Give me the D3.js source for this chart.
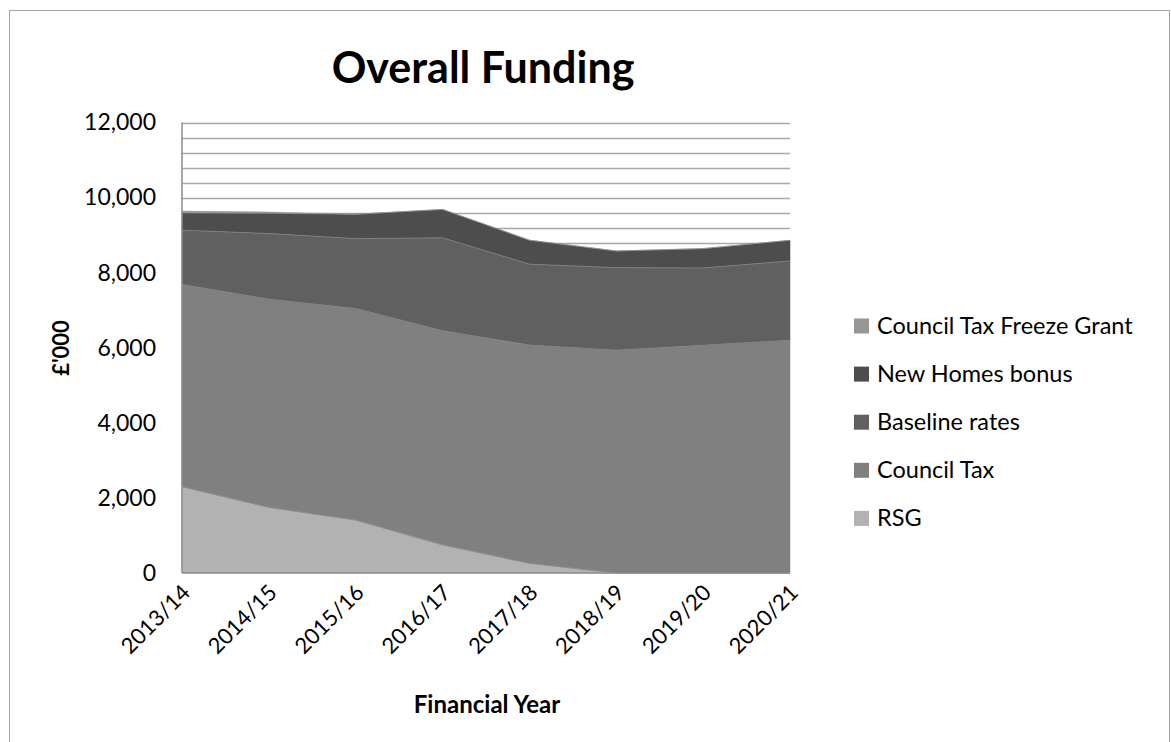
<!DOCTYPE html>
<html><head><meta charset="utf-8">
<script src="https://cdn.jsdelivr.net/npm/d3@7"></script>
<style>body{margin:0;background:#fff}svg{display:block}text{font-family:Lato,"Open Sans",sans-serif}</style>
</head><body><svg id="c" width="1171" height="742"></svg>
<script>
const years = ["2013/14","2014/15","2015/16","2016/17","2017/18","2018/19","2019/20","2020/21"];
const seriesNames = ["RSG","Council Tax","Baseline rates","New Homes bonus","Council Tax Freeze Grant"];
const rsg = [2300,1750,1410,750,260,0,0,0];
const councilTax = [5385,5543,5633,5703,5810,5934,6067,6200];
const baselineRates = [1445,1749,1863,2475,2155,2200,2058,2111];
const newHomesBonus = [460,540,650,755,639,443,515,550];
const freezeGrant = [50,35,0,0,0,0,0,0];
const colors = ["#b2b2b2","#808080","#606060","#4d4d4d","#969696"];
const yTicks = [0,2000,4000,6000,8000,10000,12000];

const rows = years.map((y,i)=>({year:y,"RSG":rsg[i],"Council Tax":councilTax[i],"Baseline rates":baselineRates[i],"New Homes bonus":newHomesBonus[i],"Council Tax Freeze Grant":freezeGrant[i]}));
const svg = d3.select("#c");
svg.append("rect").attr("x",9.5).attr("y",10.5).attr("width",1160).attr("height",760).attr("fill","none").attr("stroke","#a6a6a6").attr("stroke-width",1);

const L=182,R=790,T=122.5,B=573;
const x = d3.scalePoint().domain(years).range([L,R]);
const y = d3.scaleLinear().domain([0,12000]).range([B,T]);

const grid = d3.range(400,12001,400);
svg.append("g").selectAll("line").data(grid).join("line")
  .attr("x1",L).attr("x2",R).attr("y1",d=>Math.round(y(d))+0.5).attr("y2",d=>Math.round(y(d))+0.5)
  .attr("stroke","#a8a8a8").attr("stroke-width",1.5);

const stack = d3.stack().keys(seriesNames)(rows);
const area = d3.area().x(d=>x(d.data.year)).y0(d=>y(d[0])).y1(d=>y(d[1]));
svg.append("g").selectAll("path").data(stack).join("path")
  .attr("d",area).attr("fill",(d,i)=>colors[i]).attr("stroke",(d,i)=>colors[i]).attr("stroke-width",0.5);
const line = d3.line().x(d=>x(d.data.year)).y(d=>y(d[1]));
svg.append("g").selectAll("path").data(stack.slice(0,3)).join("path")
  .attr("d",line).attr("fill","none").attr("stroke","#8a8a8a").attr("stroke-width",0.8);

svg.append("line").attr("x1",L).attr("x2",L).attr("y1",T).attr("y2",B).attr("stroke","#8c8c8c").attr("stroke-width",1.5);
svg.append("line").attr("x1",L).attr("x2",R).attr("y1",B).attr("y2",B).attr("stroke","#8c8c8c").attr("stroke-width",1.5);

const yAxis = d3.axisLeft(y).tickValues(yTicks).tickSize(0).tickPadding(0).tickFormat(d3.format(","));
const gy = svg.append("g").attr("transform",`translate(${L-26},0)`).call(yAxis);
gy.select(".domain").remove();
gy.selectAll("text").attr("font-size",23).attr("fill","#000").attr("font-family","Lato,'Open Sans',sans-serif");

const xAxis = d3.axisBottom(x).tickSize(0).tickPadding(0);
const gx = svg.append("g").attr("transform",`translate(0,${B})`).call(xAxis);
gx.select(".domain").remove();
gx.selectAll("text").attr("font-size",22).attr("fill","#000").attr("font-family","Lato,'Open Sans',sans-serif")
  .attr("text-anchor","end").attr("dy",0).attr("transform","translate(9,21) rotate(-45)");

svg.append("text").attr("x",483).attr("y",83).attr("text-anchor","middle").attr("font-size",43).attr("font-weight","bold").text("Overall Funding");
svg.append("text").attr("x",487).attr("y",713).attr("text-anchor","middle").attr("font-size",24).attr("font-weight","bold").text("Financial Year");
svg.append("text").attr("transform","translate(69,348) rotate(-90)").attr("text-anchor","middle").attr("font-size",22).attr("font-weight","bold").text("£'000");

const leg = seriesNames.slice().reverse();
const lg = svg.append("g");
leg.forEach((n,i)=>{
  const cy = 326 + i*48.1;
  const ci = seriesNames.indexOf(n);
  lg.append("rect").attr("x",854).attr("y",cy-7.5).attr("width",15).attr("height",15).attr("fill",colors[ci]);
  lg.append("text").attr("x",877).attr("y",cy+8).attr("font-size",23.5).text(n);
});
</script></body></html>
